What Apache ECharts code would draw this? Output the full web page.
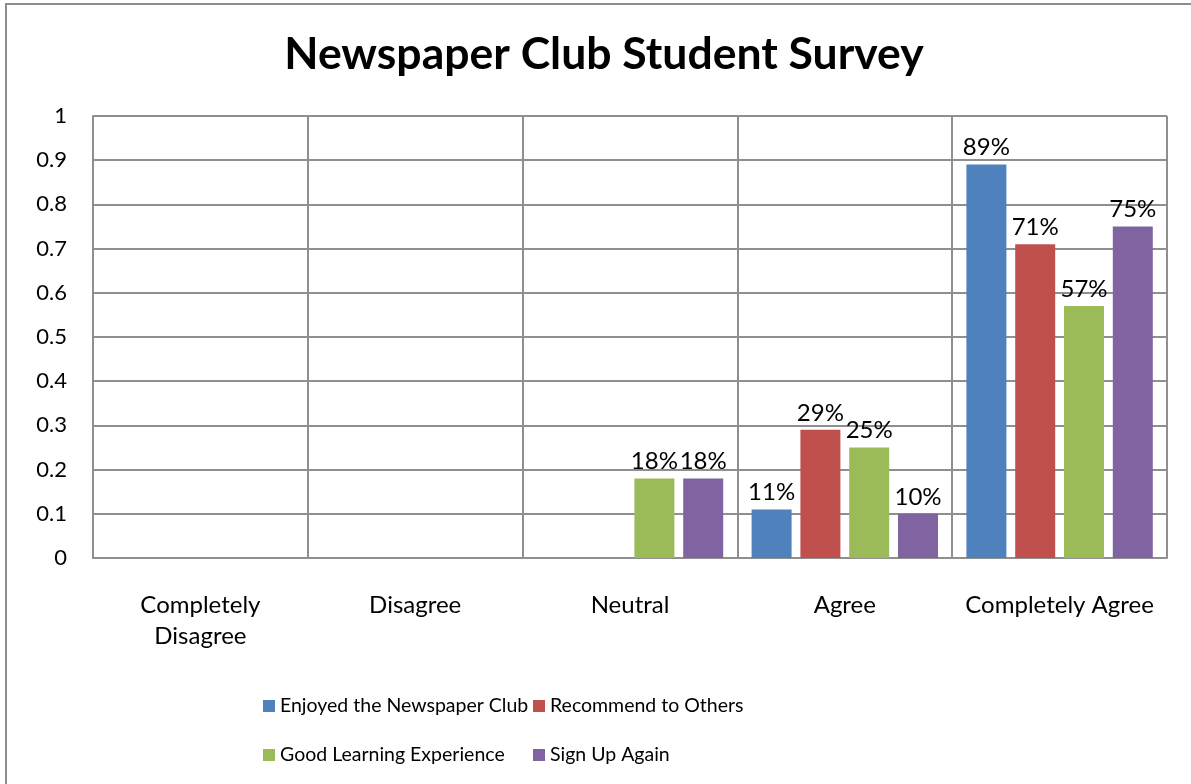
<!DOCTYPE html>
<html>
<head>
<meta charset="utf-8">
<script src="https://cdn.jsdelivr.net/npm/echarts@6/dist/echarts.min.js"></script>
<style>
  html, body { margin: 0; padding: 0; background: #ffffff; }
  #chart { width: 1191px; height: 784px; }
</style>
</head>
<body>
<div id="chart"></div>
<script>
// Survey answers per category, as shares of respondents
const categories = ['Completely Disagree', 'Disagree', 'Neutral', 'Agree', 'Completely Agree'];
const enjoyedClub = [0, 0, 0, 0.11, 0.89];
const recommendOthers = [0, 0, 0, 0.29, 0.71];
const goodLearning = [0, 0, 0.18, 0.25, 0.57];
const signUpAgain = [0, 0, 0.18, 0.10, 0.75];
const seriesNames = ['Enjoyed the Newspaper Club', 'Recommend to Others', 'Good Learning Experience', 'Sign Up Again'];
const yTicks = [0, 0.1, 0.2, 0.3, 0.4, 0.5, 0.6, 0.7, 0.8, 0.9, 1];

const FONT = 'Lato';
const colors = ['#4F81BD', '#C0504D', '#9BBB59', '#8064A2'];
const gridColor = '#8f8f8f';

const chart = echarts.init(document.getElementById('chart'));

function barSeries(name, values, color) {
  return {
    name: name,
    type: 'bar',
    data: values,
    barWidth: 40,
    barGap: '22%',
    itemStyle: { color: color },
    label: {
      show: true,
      position: 'top',
      distance: 5,
      fontFamily: FONT,
      fontSize: 24,
      color: '#000',
      formatter: p => (p.value ? Math.round(p.value * 100) + '%' : '')
    }
  };
}

const legendText = { fontFamily: FONT, fontSize: 19.5, color: '#000', lineHeight: 26 };

chart.setOption({
  backgroundColor: '#ffffff',
  animation: false,
  color: colors,
  title: {
    text: 'Newspaper Club Student Survey',
    left: 599,
    textAlign: 'center',
    top: 27,
    textStyle: { fontFamily: FONT, fontWeight: 'bold', fontSize: 44.5, color: '#000' }
  },
  graphic: [{
    type: 'rect',
    shape: { x: 6, y: 4, width: 1300, height: 900 },
    style: { fill: 'none', stroke: '#8c8c8c', lineWidth: 2 },
    silent: true,
    z: -1
  }],
  legend: [{
    data: [seriesNames[0], seriesNames[2]],
    orient: 'vertical',
    left: 258,
    top: 688,
    icon: 'rect',
    itemWidth: 12,
    itemHeight: 12,
    itemGap: 23,
    textStyle: legendText
  }, {
    data: [seriesNames[1], seriesNames[3]],
    orient: 'vertical',
    left: 528,
    top: 688,
    icon: 'rect',
    itemWidth: 12,
    itemHeight: 12,
    itemGap: 23,
    textStyle: legendText
  }],
  grid: { left: 93, top: 116, width: 1074, height: 442, containLabel: false },
  xAxis: {
    type: 'category',
    data: categories,
    axisLine: { show: true, lineStyle: { color: gridColor, width: 2 } },
    axisTick: { show: false },
    splitLine: { show: true, lineStyle: { color: gridColor, width: 2 } },
    axisLabel: {
      fontFamily: FONT,
      fontSize: 24,
      color: '#000',
      lineHeight: 31,
      margin: 32,
      interval: 0,
      formatter: v => (v.length > 17 ? v.replace(' ', '\n') : v)
    }
  },
  yAxis: {
    type: 'value',
    min: 0,
    max: 1,
    interval: 0.1,
    axisLine: { show: true, lineStyle: { color: gridColor, width: 2 } },
    axisTick: { show: false },
    splitLine: { show: true, lineStyle: { color: gridColor, width: 2 } },
    axisLabel: {
      fontFamily: FONT,
      fontSize: 22,
      color: '#000',
      margin: 26,
      formatter: v => {
        const t = yTicks.find(k => Math.abs(k - v) < 1e-9);
        return String(t !== undefined ? t : v);
      }
    }
  },
  series: [
    barSeries(seriesNames[0], enjoyedClub, colors[0]),
    barSeries(seriesNames[1], recommendOthers, colors[1]),
    barSeries(seriesNames[2], goodLearning, colors[2]),
    barSeries(seriesNames[3], signUpAgain, colors[3])
  ]
});
</script>
</body>
</html>
